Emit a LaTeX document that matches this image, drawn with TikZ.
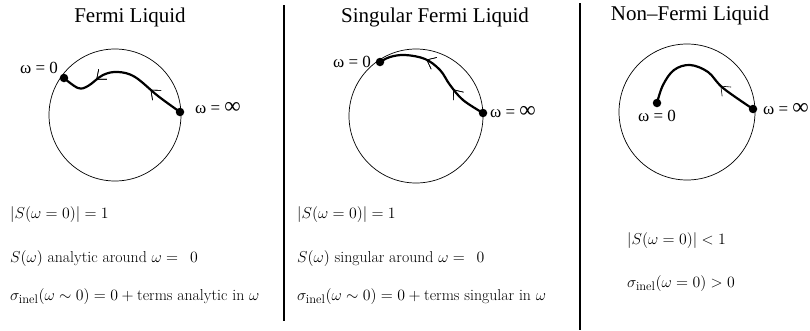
\RequirePackage{fix-cm}
\documentclass[tikz,border=0pt]{standalone}
\usepackage{fontspec}
\newfontfamily\timesf{Liberation Serif}
\usetikzlibrary{decorations.markings,arrows.meta}
\newcommand{\biginf}{{\fontsize{23}{23}\selectfont ∞}}
\newcommand{\inelsub}{\mbox{\fontsize{12.5}{13}\selectfont inel}}
\begin{document}
\begin{tikzpicture}[x=1pt,y=-1pt,
  ring/.style={draw,line width=0.7pt},
  path/.style={line width=2.2pt},
  dot/.style={circle,fill,inner sep=0pt,minimum size=8.5pt},
  title/.style={font=\timesf\fontsize{21}{23}\selectfont,anchor=base},
  wlab/.style={font=\timesf\fontsize{17}{19}\selectfont,inner sep=0pt},
  formula/.style={font=\fontsize{15.8}{18}\selectfont,anchor=base west,inner sep=0pt},
  divider/.style={line width=1.2pt},
  barb/.style={decoration={markings,mark=at position #1 with {\arrow{Straight Barb[length=8pt,width=13pt,line width=0.6pt]}}},postaction={decorate}}
]
\useasboundingbox (0,0) rectangle (810,330);
% dividers
\coordinate (d1t) at (284,5); \coordinate (d1b) at (284,321);
\coordinate (d2t) at (580,3); \coordinate (d2b) at (580,330);
\draw[divider] (d1t) -- (d1b);
\draw[divider] (d2t) -- (d2b);
% titles
\node[title] (t1) at (130,22) {Fermi Liquid};
\node[title] (t2) at (435,22) {Singular Fermi Liquid};
\node[title] (t3) at (690,20) {Non{\char"2013}Fermi Liquid};
% panel 1
\node[ring,circle,minimum size=132pt,inner sep=0pt] (c1) at (115,115) {};
\node[dot] (z1) at (64,78) {};
\node[dot] (i1) at (180,112) {};
\draw[path,barb/.list={0.27,0.72}] plot[smooth,tension=0.6] coordinates {(i1) (158,96) (135,77) (118,72) (103,75) (88,86) (78,88) (z1)};
\node[wlab] (lz1) at (39,68) {ω = 0};
\node[wlab] (li1) at (218,108) {ω = \biginf};
% panel 2
\node[ring,circle,minimum size=134pt,inner sep=0pt] (c2) at (416,116) {};
\node[dot] (z2) at (380,62) {};
\node[dot] (i2) at (483,113) {};
\draw[path,barb/.list={0.3,0.62}] plot[smooth,tension=0.6] coordinates {(i2) (463,100) (450,85) (440,70) (425,59) (405,55) (390,57) (z2)};
\node[wlab] (lz2) at (352,62) {ω = 0};
\node[wlab] (li2) at (513,112) {ω = \biginf};
% panel 3
\node[ring,circle,minimum size=136pt,inner sep=0pt] (c3) at (687,112) {};
\node[dot] (z3) at (657,103) {};
\node[dot] (i3) at (753,109) {};
\draw[path,barb=0.3] plot[smooth,tension=0.6] coordinates {(i3) (723,88) (708,72) (690,65) (674,70) (663,85) (z3)};
\node[wlab] (lz3) at (657,116) {ω = 0};
\node[wlab,anchor=east] (li3) at (809,109) {ω = \biginf};
% formulas
\node[formula] (f11) at (10,218) {$|S(\omega=0)|=1$};
\node[formula] (f12) at (10,262) {$S(\omega)$ analytic around $\omega=\ \,0$};
\node[formula] (f13) at (10,300) {$\sigma_{\inelsub}(\omega\sim 0)=0+\mbox{terms analytic in }\omega$};
\node[formula] (f21) at (297,218) {$|S(\omega=0)|=1$};
\node[formula] (f22) at (297,262) {$S(\omega)$ singular around $\omega=\ \,0$};
\node[formula] (f23) at (297,300) {$\sigma_{\inelsub}(\omega\sim 0)=0+\mbox{terms singular in }\omega$};
\node[formula] (f31) at (627,244) {$|S(\omega=0)|<1$};
\node[formula] (f32) at (627,287) {$\sigma_{\inelsub}(\omega=0)>0$};
\end{tikzpicture}
\end{document}
